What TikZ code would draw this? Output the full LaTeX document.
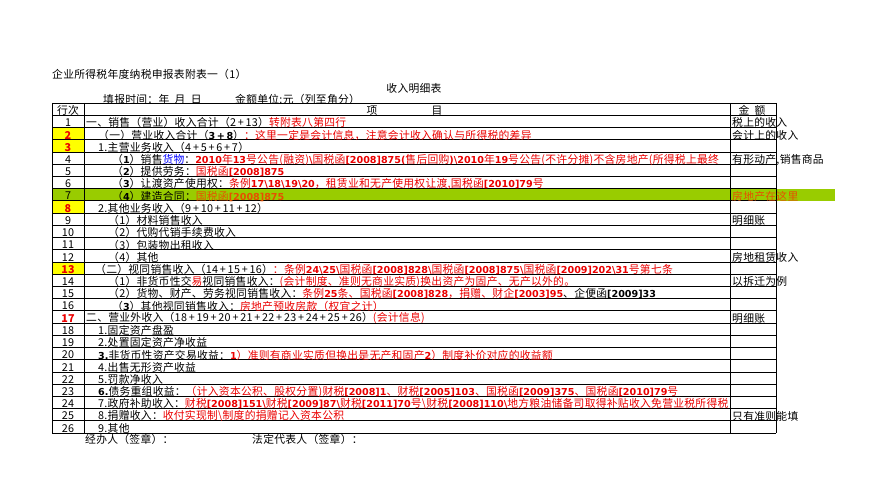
\documentclass[tikz,border=0pt]{standalone}
\usepackage{fontspec}
\setmainfont{Noto Sans CJK SC}[LetterSpace=2.5]
\newfontfamily\dv{DejaVu Sans}
\definecolor{rd}{RGB}{235,0,0}
\definecolor{gr}{RGB}{153,204,0}
\definecolor{yl}{RGB}{255,255,0}
\definecolor{org}{RGB}{230,80,0}
\newcommand\rr[1]{\textcolor{rd}{#1}}
\newcommand\bb[1]{{\dv\bfseries\fontsize{9.6}{11}\selectfont #1}}
\newcommand\pl{\,+\,}
\begin{document}
\begin{tikzpicture}[x=1pt,y=-1pt,font=\fontsize{10.8}{11}\selectfont,
  tx/.style={anchor=west,inner sep=0pt,yshift=-1.5pt},
  cn/.style={anchor=center,inner sep=0pt,yshift=-1.5pt}]
\useasboundingbox (0,0) rectangle (895,489);
\def\rh{12.22}
% fills
\fill[gr] (52,{103+7*\rh}) rectangle (835,{103+8*\rh});
\foreach \r in {2,3,8,13}{\fill[yl] (52,{103+\r*\rh}) rectangle (84,{103+(\r+1)*\rh});}
% grid
\foreach \r in {0,...,27}{\draw[line width=0.6pt] (52,{103+\r*\rh}) -- (776,{103+\r*\rh});}
\draw[line width=0.6pt] (52,103) -- (52,{103+27*\rh});
\draw[line width=0.6pt] (84,103) -- (84,{103+27*\rh});
\draw[line width=0.6pt] (730,103) -- (730,{103+27*\rh});
\draw[line width=0.6pt] (776,103) -- (776,{103+27*\rh});
% titles
\node[tx] (t1) at (52,73) {企业所得税年度纳税申报表附表一（1）};
\node[cn] (t2) at (414,87) {收入明细表};
\node[tx] (t3) at (103,98) {填报时间：年\ \ 月\ \ 日};
\node[tx] (t4) at (235,98) {金额单位:元（列至角分）};
\newcommand\Y[1]{{103+(#1+0.5)*\rh}}
\node[cn] (h1) at (68,\Y{0}) {行次};
\node[cn] (h2) at (372,\Y{0}) {项};
\node[cn] (h3) at (437,\Y{0}) {目};
\node[cn] (h4) at (752,\Y{0}) {金\ \ 额};
\foreach \r in {1,...,26}{
  \ifnum\r=2 \def\c{rd}\else\ifnum\r=3 \def\c{rd}\else\ifnum\r=8 \def\c{rd}\else\ifnum\r=13 \def\c{rd}\else\ifnum\r=17 \def\c{rd}\else\def\c{black}\fi\fi\fi\fi\fi
  \node[cn,text=\c] (n\r) at (68,\Y{\r}) {\ifnum\r=2 \bfseries\fi\ifnum\r=3 \bfseries\fi\ifnum\r=8 \bfseries\fi\ifnum\r=13 \bfseries\fi\ifnum\r=17 \bfseries\fi\r};}
% items
\node[tx] (i1) at (86,\Y{1}) {一、销售（营业）收入合计（2\pl 13）\rr{转附表八第四行}};
\node[tx] (i2) at (98,\Y{2}) {（一）营业收入合计（\bb{3\pl 8}）\rr{：这里一定是会计信息，注意会计收入确认与所得税的差异}};
\node[tx] (i3) at (98,\Y{3}) {1.主营业务收入（4\pl 5\pl 6\pl 7）};
\begin{scope}
\clip (84,{103+4*\rh}) rectangle (730,{103+5*\rh});
\node[tx] (i4) at (112,\Y{4}) {（\bb{1}）销售\textcolor{blue}{货物}：\rr{\bb{2010}年\bb{13}号公告(融资)\bb{\textbackslash}国税函\bb{[2008]875(}售后回购\bb{)\textbackslash 2010}年\bb{19}号公告(不许分摊)不含房地产(所得税上最终}};
\end{scope}
\node[tx] (i5) at (112,\Y{5}) {（\bb{2}）提供劳务：\rr{国税函\bb{[2008]875}}};
\node[tx] (i6) at (112,\Y{6}) {（\bb{3}）让渡资产使用权：\rr{条例\bb{17\textbackslash 18\textbackslash 19\textbackslash 20}，租赁业和无产使用权让渡,国税函\bb{[2010]79}号}};
\node[tx] (i7) at (112,\Y{7}) {（\bb{4}）建造合同：\textcolor{org}{国税函\bb{[2008]875}}};
\node[tx] (i8) at (98,\Y{8}) {2.其他业务收入（9\pl 10\pl 11\pl 12）};
\node[tx] (i9) at (108,\Y{9}) {（1）材料销售收入};
\node[tx] (i10) at (108,\Y{10}) {（2）代购代销手续费收入};
\node[tx] (i11) at (108,\Y{11}) {（3）包装物出租收入};
\node[tx] (i12) at (108,\Y{12}) {（4）其他};
\node[tx] (i13) at (95,\Y{13}) {（二）视同销售收入（14\pl 15\pl 16）\rr{：条例\bb{24\textbackslash 25\textbackslash}国税函\bb{[2008]828\textbackslash}国税函\bb{[2008]875\textbackslash}国税函\bb{[2009]202\textbackslash 31}号第七条}};
\node[tx] (i14) at (108,\Y{14}) {（1）非货币性交\rr{易}视同销售收入：\rr{(会计制度、准则无商业实质)换出资产为固产、无产以外的。}};
\node[tx] (i15) at (108,\Y{15}) {（2）货物、财产、劳务视同销售收入：\rr{条例\bb{25}条、国税函\bb{[2008]828}，捐赠、财企\bb{[2003]95}}、企便函\bb{[2009]33}};
\node[tx] (i16) at (112,\Y{16}) {（\bb{3}）其他视同销售收入：\rr{房地产预收房款（权宜之计）}};
\node[tx] (i17) at (86,\Y{17}) {二、营业外收入（18\pl 19\pl 20\pl 21\pl 22\pl 23\pl 24\pl 25\pl 26）\rr{(会计信息)}};
\node[tx] (i18) at (98,\Y{18}) {1.固定资产盘盈};
\node[tx] (i19) at (98,\Y{19}) {2.处置固定资产净收益};
\node[tx] (i20) at (98,\Y{20}) {\bb{3.}非货币性资产交易收益：\rr{\bb{1}）准则有商业实质但换出是无产和固产\bb{2}）制度补价对应的收益额}};
\node[tx] (i21) at (98,\Y{21}) {4.出售无形资产收益};
\node[tx] (i22) at (98,\Y{22}) {5.罚款净收入};
\node[tx] (i23) at (98,\Y{23}) {\bb{6.}债务重组收益：\rr{（计入资本公积、股权分置)财税\bb{[2008]1}、财税\bb{[2005]103}、国税函\bb{[2009]375}、国税函\bb{[2010]79}号}};
\node[tx] (i24) at (98,\Y{24}) {7.政府补助收入：\rr{财税\bb{[2008]151\textbackslash}财税\bb{[2009]87\textbackslash}财税\bb{[2011]70}号\textbackslash 财税\bb{[2008]110\textbackslash}地方粮油储备司取得补贴收入免营业税所得税}};
\node[tx] (i25) at (98,\Y{25}) {8.捐赠收入：\rr{收付实现制\textbackslash 制度的捐赠记入资本公积}};
\node[tx] (i26) at (98,\Y{26}) {9.其他};
% right notes
\node[tx] (r1) at (732,\Y{1}) {税上的收入};
\node[tx] (r2) at (732,\Y{2}) {会计上的收入};
\node[tx] (r4) at (732,\Y{4}) {有形动产,销售商品};
\node[tx,text=org] (r7) at (732,\Y{7}) {房地产在这里};
\node[tx] (r9) at (732,\Y{9}) {明细账};
\node[tx] (r12) at (732,\Y{12}) {房地租赁收入};
\node[tx] (r14) at (732,\Y{14}) {以拆迁为例};
\node[tx] (r17) at (732,\Y{17}) {明细账};
\node[tx] (r25) at (732,\Y{25}) {只有准则能填};
% signatures
\node[tx] (s1) at (85,438) {经办人（签章）：};
\node[tx] (s2) at (252,438) {法定代表人（签章）：};
\end{tikzpicture}
\end{document}
